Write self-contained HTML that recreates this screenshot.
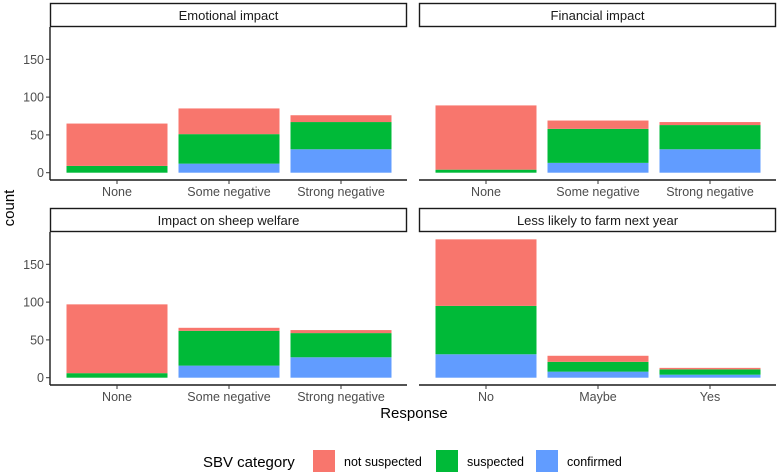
<!DOCTYPE html>
<html><head><meta charset="utf-8"><style>
body{margin:0;background:#fff;}
svg{display:block;font-family:"Liberation Sans",sans-serif;}
</style></head><body>
<svg id="c" width="780" height="474" xmlns="http://www.w3.org/2000/svg"></svg>
<script>
const panelTitles=["Emotional impact","Financial impact","Impact on sheep welfare","Less likely to farm next year"];
const catsImpact=["None","Some negative","Strong negative"];
const catsFarm=["No","Maybe","Yes"];
const confirmedVals=[[0,12,31],[0,13,31],[0,16,27],[31,8,4]];
const suspectedVals=[[9,39,36],[4,45,32],[6,46,32],[64,13,7]];
const notSuspectedVals=[[56,34,9],[85,11,4],[91,4,4],[88,8,2]];
const yTicks=[0,50,100,150];
const seriesNames=["not suspected","suspected","confirmed"];
const colors={"not suspected":"#F8766D","suspected":"#00BA38","confirmed":"#619CFF"};
const NS="http://www.w3.org/2000/svg";
const svg=document.getElementById('c');
function mk(t,a,p){const e=document.createElementNS(NS,t);for(const k in a)e.setAttribute(k,a[k]);(p||svg).appendChild(e);return e;}
const panels=[{x:50,top:3},{x:419,top:3},{x:50,top:208},{x:419,top:208}];
const PW=357, unit=0.756;
function yScale(v,p){return p.zero - v*unit;}
panels.forEach((p,i)=>{
  p.zero = p.top+169.7;
  const axisY=p.top+177;
  const g=mk('g',{});
  
  
  const strip=mk('rect',{x:p.x+0.5,y:p.top+0.5,width:PW-1,height:23,fill:'#fff',stroke:'#1a1a1a','stroke-width':1.4},g);
  
  
  const st=mk('text',{x:p.x+PW/2,y:p.top+17,'text-anchor':'middle','font-size':13,fill:'#1a1a1a'},g);
  st.textContent=panelTitles[i];
  
  
  mk('line',{x1:p.x,x2:p.x+PW,y1:axisY,y2:axisY,stroke:'#1a1a1a','stroke-width':1.4},g);
  if(i%2===0) mk('line',{x1:p.x,x2:p.x,y1:p.top+24,y2:axisY,stroke:'#1a1a1a','stroke-width':1.4},g);
  const cats = i===3?catsFarm:catsImpact;
  cats.forEach((c,j)=>{
    const cx=p.x+67+j*112;
    const parts=[["confirmed",confirmedVals[i][j]],["suspected",suspectedVals[i][j]],["not suspected",notSuspectedVals[i][j]]];
    let base=0;
    parts.forEach(([n,v])=>{
      if(v>0){
        const r=mk('rect',{x:cx-50.5,y:yScale(base+v,p),width:101,height:v*unit,fill:colors[n]},g);
        
        
      }
      base+=v;
    });
    mk('line',{x1:cx,x2:cx,y1:axisY,y2:axisY+4,stroke:'#333'},g);
    const t=mk('text',{x:cx,y:axisY+16,'text-anchor':'middle','font-size':12.5,fill:'#4d4d4d'},g);
    t.textContent=c;
    
    
  });
  if(i%2===0){
    yTicks.forEach(v=>{
      const y=yScale(v,p);
      mk('line',{x1:p.x-4,x2:p.x,y1:y,y2:y,stroke:'#333'},g);
      const t=mk('text',{x:p.x-6,y:y+4.5,'text-anchor':'end','font-size':12.5,fill:'#4d4d4d'},g);
      t.textContent=v;
      
      
    });
  }
});
const yt=mk('text',{x:0,y:0,transform:'translate(14,208) rotate(-90)','text-anchor':'middle','font-size':15,fill:'#000'});
yt.textContent='count';


const xt=mk('text',{x:414,y:418,'text-anchor':'middle','font-size':15,fill:'#000'});
xt.textContent='Response';


const lt=mk('text',{x:203,y:467,'font-size':15,fill:'#000'});
lt.textContent='SBV category';


const keyX=[313,436,536];
seriesNames.forEach((n,k)=>{
  const r=mk('rect',{x:keyX[k],y:450,width:22,height:22,fill:colors[n]});
  
  
  const t=mk('text',{x:keyX[k]+31,y:466,'font-size':12.5,fill:'#000'});
  t.textContent=n;
  
  
});
</script>
</body></html>
